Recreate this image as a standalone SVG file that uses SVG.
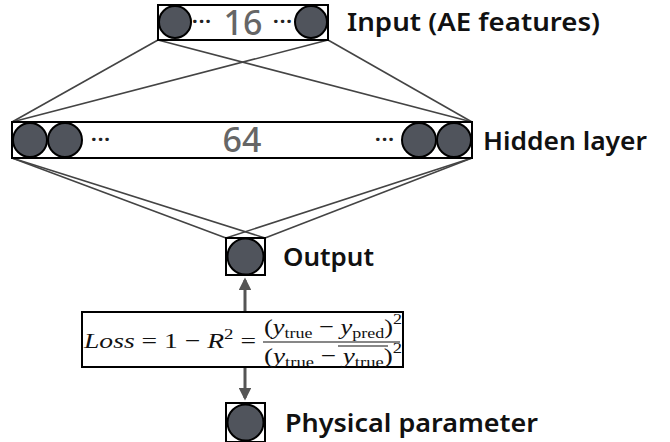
<svg xmlns="http://www.w3.org/2000/svg" width="670" height="442" viewBox="0 0 670 442">
<defs>
<style>
.box{fill:none;stroke:#000;stroke-width:2}
.neu{fill:#50545c;stroke:#000;stroke-width:2}
.lbl{font-family:"Noto Sans","Liberation Sans",sans-serif;font-weight:600;font-size:25px;fill:#111}
.num{font-family:"Noto Sans","Liberation Sans",sans-serif;font-weight:500;font-size:34px;fill:#666}
.dots{font-family:"Noto Sans","Liberation Sans",sans-serif;font-weight:700;font-size:20px;fill:#222;letter-spacing:1px}
.conn{stroke:#444;stroke-width:1.6;fill:none}
.arr{stroke:#555;stroke-width:3;fill:none}
.math{font-family:"Liberation Serif","DejaVu Serif",serif;font-size:22px;fill:#111}
.it{font-style:italic}
.sub{font-size:15px}
</style>
<marker id="ah" viewBox="0 0 10 10" refX="8" refY="5" markerWidth="4.2" markerHeight="4.2" orient="auto">
<path d="M0,0 L10,5 L0,10 Z" fill="#555"/>
</marker>
</defs>
<rect width="670" height="442" fill="#fff"/>
<g id="connectors">
<line class="conn" x1="158" y1="40" x2="12" y2="122"/>
<line class="conn" x1="158" y1="40" x2="472" y2="122"/>
<line class="conn" x1="328" y1="40" x2="12" y2="122"/>
<line class="conn" x1="328" y1="40" x2="472" y2="122"/>
<line class="conn" x1="12" y1="158" x2="226" y2="238"/>
<line class="conn" x1="12" y1="158" x2="265" y2="238"/>
<line class="conn" x1="472" y1="158" x2="226" y2="238"/>
<line class="conn" x1="472" y1="158" x2="265" y2="238"/>
<line class="arr" x1="245" y1="311" x2="245" y2="280" marker-end="url(#ah)"/>
<line class="arr" x1="245" y1="368" x2="245" y2="398" marker-end="url(#ah)"/>
</g>
<g id="input">
<rect class="box" x="158" y="5" width="170" height="35"/>
<circle class="neu" cx="175" cy="22" r="16"/>
<circle class="neu" cx="311" cy="22" r="16"/>
<text class="dots" x="202" y="28" text-anchor="middle">···</text>
<text class="dots" x="283" y="28" text-anchor="middle">···</text>
<text class="num" x="243" y="35" text-anchor="middle">16</text>
<text class="lbl" x="347" y="31" textLength="253" lengthAdjust="spacingAndGlyphs">Input (AE features)</text>
</g>
<g id="hidden">
<rect class="box" x="12" y="122" width="460" height="36"/>
<circle class="neu" cx="30" cy="140" r="17"/>
<circle class="neu" cx="65" cy="140" r="17"/>
<circle class="neu" cx="419" cy="140" r="17"/>
<circle class="neu" cx="454" cy="140" r="17"/>
<text class="dots" x="101" y="146" text-anchor="middle">···</text>
<text class="dots" x="385" y="146" text-anchor="middle">···</text>
<text class="num" x="242" y="152" text-anchor="middle">64</text>
<text class="lbl" x="483" y="150" textLength="164" lengthAdjust="spacingAndGlyphs">Hidden layer</text>
</g>
<g id="output">
<rect class="box" x="226" y="238" width="39" height="37"/>
<circle class="neu" cx="245.5" cy="256.5" r="18"/>
<text class="lbl" x="283" y="266" textLength="91" lengthAdjust="spacingAndGlyphs">Output</text>
</g>
<g id="loss">
<rect class="box" x="82" y="312" width="321" height="55"/>
<text class="math" x="84" y="348" textLength="172" lengthAdjust="spacingAndGlyphs"><tspan class="it">Loss</tspan> = 1 − <tspan class="it">R</tspan><tspan class="sub" dy="-9">2</tspan><tspan dy="9"> =</tspan></text>
<text class="math" x="264" y="334" textLength="138" lengthAdjust="spacingAndGlyphs">(<tspan class="it">y</tspan><tspan class="sub" dy="4">true</tspan><tspan dy="-4"> − </tspan><tspan class="it">y</tspan><tspan class="sub" dy="4">pred</tspan><tspan dy="-4">)</tspan><tspan class="sub" dy="-10">2</tspan></text>
<line x1="263" y1="342" x2="400" y2="342" stroke="#111" stroke-width="1.2"/>
<text class="math" x="264" y="363" textLength="138" lengthAdjust="spacingAndGlyphs">(<tspan class="it">y</tspan><tspan class="sub" dy="4">true</tspan><tspan dy="-4"> − </tspan><tspan class="it">y</tspan><tspan class="sub" dy="4">true</tspan><tspan dy="-4">)</tspan><tspan class="sub" dy="-10">2</tspan></text>
<line x1="338" y1="346" x2="388" y2="346" stroke="#111" stroke-width="1.2"/>
</g>
<g id="physical">
<rect class="box" x="226" y="403" width="39" height="39"/>
<circle class="neu" cx="245.5" cy="422.5" r="18"/>
<text class="lbl" x="285" y="432" textLength="253" lengthAdjust="spacingAndGlyphs">Physical parameter</text>
</g>
</svg>
